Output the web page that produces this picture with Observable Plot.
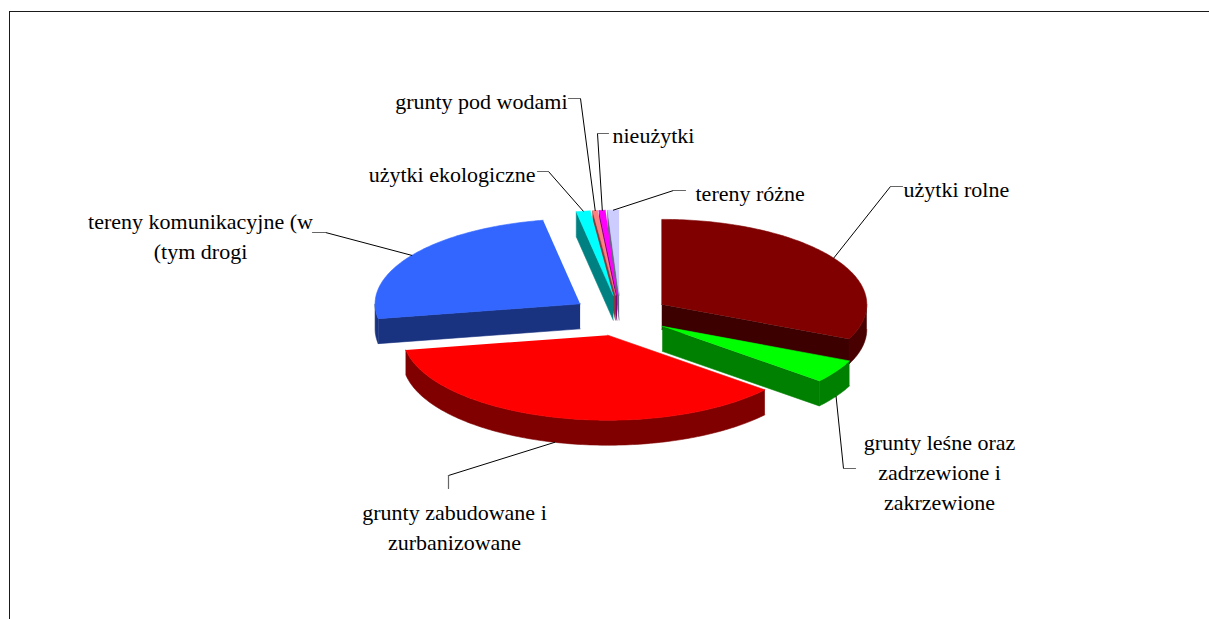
<!DOCTYPE html>
<html><head><meta charset="utf-8">
<script src="https://cdn.jsdelivr.net/npm/d3@7"></script>
<script src="https://cdn.jsdelivr.net/npm/@observablehq/plot@0.6"></script>
<style>
html,body{margin:0;padding:0;background:#fff;overflow:hidden}
#wrap{position:relative;width:1209px;height:619px;overflow:hidden;background:#fff}
#border{position:absolute;left:9px;top:11px;width:1400px;height:900px;border:1.5px solid #1a1a1a;box-sizing:border-box}
#chart{position:absolute;left:0;top:0}
</style></head><body>
<div id="wrap"><div id="border"></div><div id="chart"></div></div>
<script>
// ---- data ----
const categories = [
  "użytki rolne",
  "grunty leśne oraz zadrzewione i zakrzewione",
  "grunty zabudowane i zurbanizowane",
  "tereny komunikacyjne (w tym drogi)",
  "użytki ekologiczne",
  "grunty pod wodami",
  "nieużytki",
  "tereny różne"
];
const values = [31.67, 4.44, 36.11, 24.89, 1.11, 0.39, 0.50, 0.89];
const labelLines = [
  ["użytki rolne"],
  ["grunty leśne oraz", "zadrzewione i", "zakrzewione"],
  ["grunty zabudowane i", "zurbanizowane"],
  ["tereny komunikacyjne (w", "(tym drogi"],
  ["użytki ekologiczne"],
  ["grunty pod wodami"],
  ["nieużytki"],
  ["tereny różne"]
];
const topColors    = ["#800000", "#00ff00", "#ff0000", "#3366ff", "#00ffff", "#ff8080", "#ff00ff", "#ccccff"];
const sideColors   = ["#480000", "#008000", "#800000", "#1a3380", "#008080", "#804040", "#800080", "#666680"];
const radialColors = ["#3c0000", "#008000", "#800000", "#1a3380", "#008080", "#804040", "#800080", "#666680"];

// ---- layout ----
const W = 1209, H = 619;
const CX = 620, CY = 315, RX = 205, RY = 85, DEPTH = 25, EXPLODE = 0.24;
const labelLayout = [
  {elbow: [890, 186], hook: [902, 186], tx: 903, ty: 187, anchor: "start"},
  {elbow: [843, 468], hook: [855, 468], tx: 939, ty: 470, anchor: "middle"},
  {elbow: [448, 475], hook: [448, 488], tx: 454, ty: 525, anchor: "middle"},
  {elbow: [325, 232], hook: [312, 232], tx: 200, ty: 234, anchor: "middle"},
  {elbow: [548, 171], hook: [537, 171], tx: 535, ty: 172, anchor: "end"},
  {elbow: [580, 98],  hook: [568, 98],  tx: 567, ty: 99,  anchor: "end"},
  {elbow: [597, 133], hook: [608, 133], tx: 612, ty: 133, anchor: "start"},
  {elbow: [673, 190], hook: [685, 190], tx: 695, ty: 191, anchor: "start"}
];

const arcs = d3.pie().sort(null).value(d => d)(values);
const P = (cx, cy, t, r, z) => [cx + r * RX * Math.sin(t), cy - r * RY * Math.cos(t) + z * DEPTH];
const arcPts = (cx, cy, a, b, z) => {
  const n = Math.max(2, Math.ceil(Math.abs(b - a) / (Math.PI / 180)));
  return d3.range(n + 1).map(i => P(cx, cy, a + (b - a) * i / n, 1, z));
};

const slices = arcs.map((a, i) => {
  const m = (a.startAngle + a.endAngle) / 2;
  return {i, a0: a.startAngle, a1: a.endAngle, m,
    ex: CX + EXPLODE * RX * Math.sin(m), ey: CY - EXPLODE * RY * Math.cos(m)};
});
const order = slices.slice().sort((p, q) => Math.cos(q.m) - Math.cos(p.m));

const faces = [];
let fid = 0;
function addFace(pts, color) {
  const k = fid++;
  pts.forEach(([x, y]) => faces.push({k, x, y, color}));
}
for (const s of order) {
  const {i, a0, a1, ex, ey} = s;
  if (Math.sin(a0) < -1e-6) {
    addFace([P(ex, ey, 0, 0, 0), P(ex, ey, a0, 1, 0), P(ex, ey, a0, 1, 1), P(ex, ey, 0, 0, 1)], radialColors[i]);
  }
  if (Math.sin(a1) > 1e-6) {
    addFace([P(ex, ey, 0, 0, 0), P(ex, ey, a1, 1, 0), P(ex, ey, a1, 1, 1), P(ex, ey, 0, 0, 1)], radialColors[i]);
  }
  const lo = Math.max(a0, Math.PI / 2), hi = Math.min(a1, 3 * Math.PI / 2);
  if (lo < hi) {
    addFace([...arcPts(ex, ey, lo, hi, 0), ...arcPts(ex, ey, hi, lo, 1)], sideColors[i]);
  }
  addFace([P(ex, ey, 0, 0, 0), ...arcPts(ex, ey, a0, a1, 0)], topColors[i]);
}

const leaders = [], hooks = [];
slices.forEach(s => {
  const L = labelLayout[s.i];
  const anchorPt = P(s.ex, s.ey, s.m, 1, Math.cos(s.m) >= 0 ? 0 : 1);
  leaders.push({k: s.i, x: anchorPt[0], y: anchorPt[1]}, {k: s.i, x: L.elbow[0], y: L.elbow[1]});
  hooks.push({k: s.i, x: L.elbow[0], y: L.elbow[1]}, {k: s.i, x: L.hook[0], y: L.hook[1]});
});
const labels = labelLines.map((lines, i) => ({text: lines.join("\n"), ...labelLayout[i]}));

const textOpts = anchor => ({
  x: "tx", y: "ty", text: "text", textAnchor: anchor, lineAnchor: "middle",
  lineHeight: 30 / 22, fontSize: 22, fontFamily: "Liberation Serif", fill: "black"
});

const chart = Plot.plot({
  width: W, height: H, margin: 0,
  x: {domain: [0, W], range: [0, W], axis: null},
  y: {domain: [0, H], range: [0, H], axis: null},
  color: {type: "identity"},
  marks: [
    Plot.line(faces, {x: "x", y: "y", z: "k", fill: "color", stroke: "color", strokeWidth: 0.6, curve: "linear"}),
    Plot.line(leaders, {x: "x", y: "y", z: "k", stroke: "#000", strokeWidth: 1}),
    Plot.line(hooks, {x: "x", y: "y", z: "k", stroke: "#666", strokeWidth: 1.2}),
    Plot.text(labels.filter(d => d.anchor === "start"), textOpts("start")),
    Plot.text(labels.filter(d => d.anchor === "middle"), textOpts("middle")),
    Plot.text(labels.filter(d => d.anchor === "end"), textOpts("end"))
  ]
});
chart.style.background = "transparent";
document.getElementById("chart").appendChild(chart);
</script>
</body></html>
